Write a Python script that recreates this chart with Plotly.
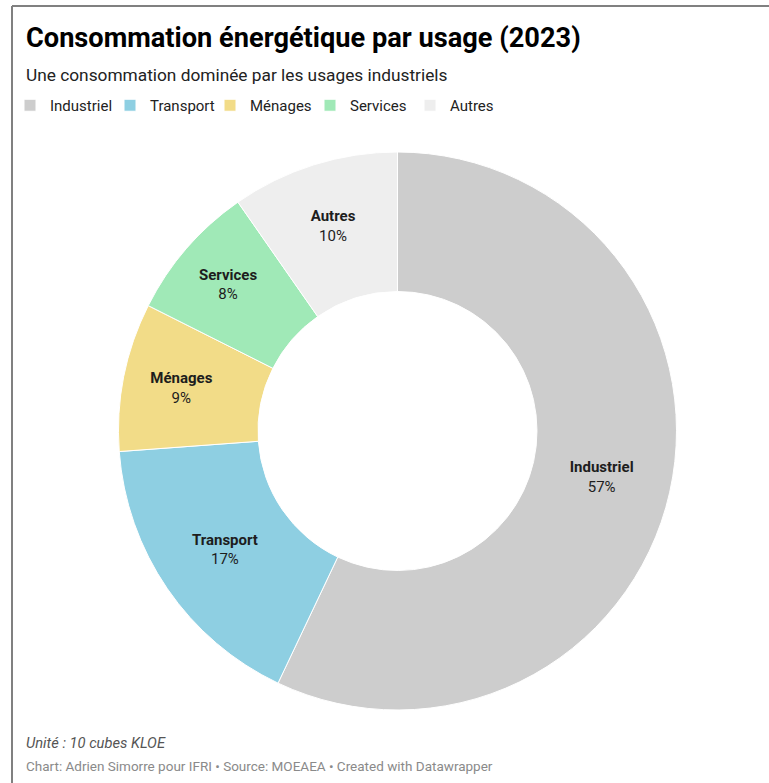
import plotly.graph_objects as go

categories = ["Industriel", "Transport", "Ménages", "Services", "Autres"]
values = [57.1, 16.8, 8.6, 7.9, 9.7]
colors = ["#cdcdcd", "#8ecfe2", "#f2dc88", "#a0e9b7", "#eeeeee"]

W, H = 769, 783
ML, MR, MT, MB = 118, 92, 152, 73
PW, PH = W - ML - MR, H - MT - MB

def px(x):
    return (x - ML) / PW

def py(y):
    return 1 - (y - MT) / PH

FONT = "Roboto"

fig = go.Figure(go.Pie(
    labels=categories,
    values=values,
    marker=dict(colors=colors, line=dict(color="white", width=1)),
    hole=0.5,
    sort=False,
    direction="clockwise",
    rotation=0,
    textposition="inside",
    insidetextorientation="horizontal",
    texttemplate="<b>%{label}</b><br>%{percent:.0%}",
    textfont=dict(family=FONT, size=15, color="#1d1d1d"),
    hoverinfo="label+percent",
))

annotations = [
    dict(text="<b>Consommation énergétique par usage (2023)</b>", x=px(24), y=py(38),
         xanchor="left", yanchor="middle", font=dict(family=FONT, size=27.2, color="#000000")),
    dict(text="Une consommation dominée par les usages industriels", x=px(24), y=py(75),
         xanchor="left", yanchor="middle", font=dict(family=FONT, size=17.3, color="#222222")),
    dict(text="<i>Unité : 10 cubes KLOE</i>", x=px(24), y=py(743),
         xanchor="left", yanchor="middle", font=dict(family=FONT, size=14.7, color="#555555")),
    dict(text="Chart: Adrien Simorre pour IFRI • Source: MOEAEA • Created with Datawrapper",
         x=px(24), y=py(766), xanchor="left", yanchor="middle",
         font=dict(family=FONT, size=13.5, color="#8a8a8a")),
]
for a in annotations:
    a.update(xref="paper", yref="paper", showarrow=False)

shapes = [
    dict(type="line", xref="paper", yref="paper", x0=px(12), x1=px(12), y0=py(6), y1=py(790),
         line=dict(color="#808080", width=2)),
    dict(type="line", xref="paper", yref="paper", x0=px(12), x1=px(780), y0=py(6), y1=py(6),
         line=dict(color="#808080", width=2)),
]

fig.update_layout(
    width=W, height=H,
    margin=dict(l=ML, r=MR, t=MT, b=MB, autoexpand=False),
    paper_bgcolor="white", plot_bgcolor="white",
    annotations=annotations,
    shapes=shapes,
    showlegend=True,
    legend=dict(orientation="h", x=px(10), y=py(89), xanchor="left", yanchor="top",
                entrywidth=55, entrywidthmode="pixels",
                bgcolor="rgba(0,0,0,0)",
                font=dict(family=FONT, size=15, color="#222222"),
                itemclick=False, itemdoubleclick=False, traceorder="normal"),
    uniformtext=dict(minsize=15, mode="show"),
)

fig.write_html("out.html")
